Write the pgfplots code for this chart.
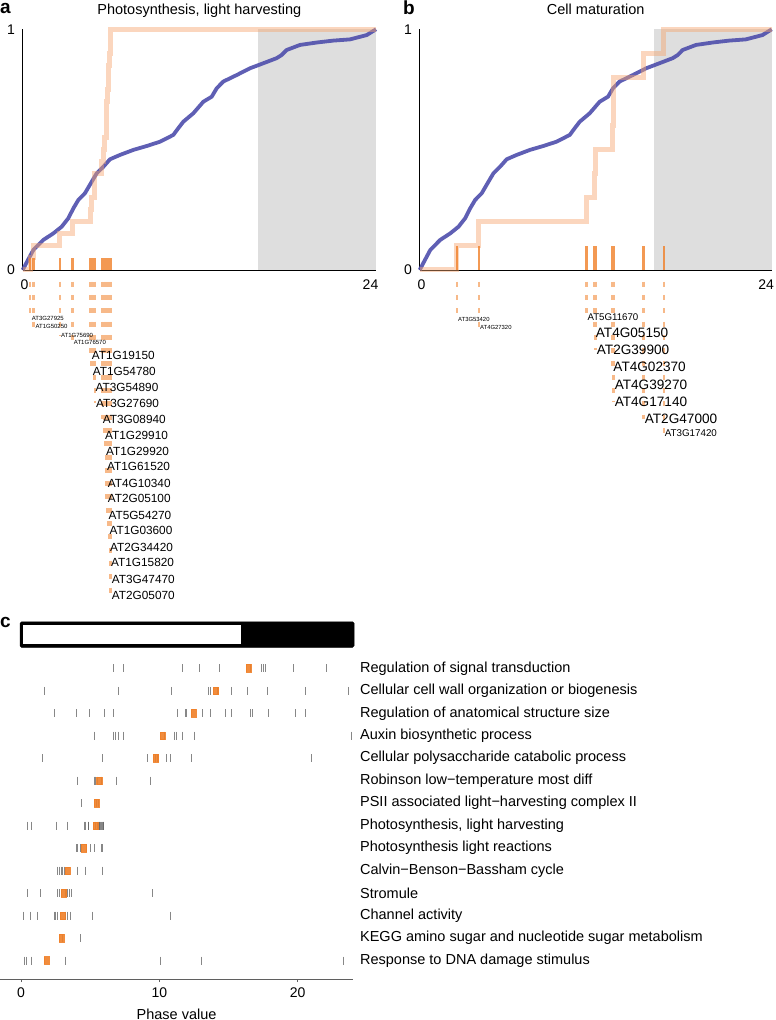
\documentclass[border=0pt]{standalone}
\usepackage{fontspec}
\setmainfont{Liberation Sans}
\usepackage{pgfplots}
\usepackage{pgfplotstable}
\pgfplotsset{compat=1.18}
\definecolor{blu}{RGB}{78,78,172}
\definecolor{ora}{RGB}{240,128,40}
\definecolor{oral}{RGB}{246,165,110}
\definecolor{shade}{RGB}{222,222,222}
\definecolor{tk}{RGB}{95,95,95}
\tikzset{gdash/.style={dash pattern=on 0pt off 11.7pt on 5pt off 8.3pt on 5pt off 8.3pt on 5pt off 8.3pt on 5pt off 8.3pt on 5pt off 8.3pt on 5pt off 8.3pt on 5pt off 8.3pt on 5pt off 8.3pt on 5pt off 8.3pt on 5pt off 8.3pt on 5pt off 8.3pt on 5pt off 8.3pt on 5pt off 8.3pt on 5pt off 8.3pt on 5pt off 8.3pt on 5pt off 8.3pt on 5pt off 8.3pt on 5pt off 8.3pt on 5pt off 8.3pt on 5pt off 8.3pt on 5pt off 8.3pt on 5pt off 8.3pt on 5pt off 8.3pt on 5pt off 8.3pt on 5pt off 8.3pt}}

\pgfplotstableread{
x y
0 0
0.3 0.035
0.72 0.083
1.40 0.125
2.08 0.152
2.65 0.180
3.10 0.215
3.44 0.256
3.78 0.291
4.23 0.319
4.69 0.367
5.03 0.402
5.48 0.429
5.93 0.460
6.61 0.478
7.52 0.499
8.42 0.515
9.33 0.533
10.23 0.561
10.57 0.589
10.91 0.616
11.59 0.651
12.27 0.699
12.84 0.720
13.18 0.755
13.63 0.783
14.54 0.810
15.44 0.838
16.35 0.859
17.25 0.880
17.59 0.893
17.93 0.914
18.84 0.935
19.97 0.945
21.10 0.953
22.23 0.958
23.37 0.976
24 1
}\bgcurve

\newcommand{\glab}[4]{\node[anchor=west,inner sep=0pt,xshift=1pt,font=\fontsize{#3}{#3}\selectfont] at (axis cs:#1,#2) {#4};}
\newcommand{\rowlab}[2]{\node[anchor=west,inner sep=0pt,xshift=7pt,font=\fontsize{14.5}{17}\selectfont] at (axis cs:24,#1) {#2};}

\begin{document}
\begin{tikzpicture}[font=\fontsize{14}{16}\selectfont]
\path[use as bounding box] (0,0) rectangle (776pt,1020pt);
\pgfplotsset{panelab/.style={scale only axis, height=240.7pt,
  xmin=0,xmax=24,ymin=0,ymax=1,
  axis x line*=bottom, axis y line*=left,
  xtick={0,24}, ytick={0,1},
  xticklabels={\rlap{\kern-2pt 0}, \llap{24\kern-2.3pt}},
  major tick length=0pt, clip=false,
  /pgf/number format/assume math mode=true,
  tick label style={font=\fontsize{14}{16}\selectfont},
  xticklabel style={inner sep=0pt, anchor=north, yshift=-10pt},
  yticklabel style={inner sep=0pt, anchor=east, xshift=-7.7pt},
  title style={font=\fontsize{14.5}{17}\selectfont, at={(0.5,1)}, anchor=base, yshift=8.6pt},
  axis line style={black, line width=0.8pt}}}

% ---------------- panel a
\begin{axis}[panelab, at={(22.7pt,750pt)}, anchor=south west, width=353.3pt,
  title={Photosynthesis, light harvesting}]
\addplot[fill=shade, draw=none] coordinates {(16,1) (24,1)} \closedcycle;
\addplot[blu, line width=3.8pt, opacity=0.9, line join=round] table {\bgcurve};
\addplot[const plot, oral, line width=5pt, opacity=0.45] coordinates {
(0,0) (0.50,0.05) (0.72,0.10) (2.53,0.15) (3.37,0.20) (4.62,0.25) (4.69,0.30)
(4.87,0.35) (4.91,0.40) (5.37,0.45) (5.52,0.50) (5.59,0.55) (5.66,0.60)
(5.70,0.65) (5.70,0.70) (5.75,0.75) (5.82,0.80) (5.86,0.85) (5.93,0.90)
(5.98,0.95) (5.98,1.00) (24,1.00)};
\addplot[ycomb, ora, line width=2.5pt, opacity=0.8] coordinates {
(0.50,0.05) (0.72,0.05) (2.53,0.05) (3.37,0.05) (4.62,0.05) (4.69,0.05)
(4.87,0.05) (4.91,0.05) (5.37,0.05) (5.52,0.05) (5.59,0.05) (5.66,0.05)
(5.70,0.05) (5.70,0.05) (5.75,0.05) (5.82,0.05) (5.86,0.05) (5.93,0.05)
(5.98,0.05) (5.98,0.05)};
\addplot[ycomb, ora, line width=2.5pt, opacity=0.55, gdash] coordinates {
(0.50,-0.200) (0.72,-0.236) (2.53,-0.270) (3.37,-0.302) (4.62,-0.353)
(4.69,-0.420) (4.87,-0.486) (4.91,-0.553) (5.37,-0.619) (5.52,-0.686)
(5.59,-0.752) (5.66,-0.818) (5.70,-0.885) (5.70,-0.951) (5.75,-1.018)
(5.82,-1.084) (5.86,-1.151) (5.93,-1.217) (5.98,-1.284) (5.98,-1.350)};
\glab{0.54}{-0.200}{6}{AT3G27925}
\glab{0.79}{-0.236}{6}{AT1G50250}
\glab{2.53}{-0.270}{6}{AT1G75690}
\glab{3.40}{-0.302}{6}{AT1G76570}
\glab{4.62}{-0.353}{11.8}{AT1G19150}
\glab{4.69}{-0.420}{11.8}{AT1G54780}
\glab{4.87}{-0.486}{11.8}{AT3G54890}
\glab{4.91}{-0.553}{11.8}{AT3G27690}
\glab{5.37}{-0.619}{11.8}{AT3G08940}
\glab{5.52}{-0.686}{11.8}{AT1G29910}
\glab{5.59}{-0.752}{11.8}{AT1G29920}
\glab{5.66}{-0.818}{11.8}{AT1G61520}
\glab{5.70}{-0.885}{11.8}{AT4G10340}
\glab{5.70}{-0.951}{11.8}{AT2G05100}
\glab{5.75}{-1.018}{11.8}{AT5G54270}
\glab{5.82}{-1.084}{11.8}{AT1G03600}
\glab{5.86}{-1.151}{11.8}{AT2G34420}
\glab{5.93}{-1.217}{11.8}{AT1G15820}
\glab{5.98}{-1.284}{11.8}{AT3G47470}
\glab{5.98}{-1.350}{11.8}{AT2G05070}
\end{axis}

% ---------------- panel b
\begin{axis}[panelab, at={(419.7pt,750pt)}, anchor=south west, width=352pt,
  title={Cell maturation}]
\addplot[fill=shade, draw=none] coordinates {(16,1) (24,1)} \closedcycle;
\addplot[blu, line width=3.8pt, opacity=0.9, line join=round] table {\bgcurve};
\addplot[const plot, oral, line width=5pt, opacity=0.45] coordinates {
(0,0) (2.54,0.1) (4.04,0.2) (11.36,0.3) (11.93,0.4) (12.0,0.5) (13.15,0.6)
(13.2,0.7) (13.2,0.8) (15.27,0.9) (16.65,1.0) (24,1.0)};
\addplot[ycomb, ora, line width=2.5pt, opacity=0.8] coordinates {
(2.54,0.1) (4.04,0.1) (11.36,0.1) (11.93,0.1) (12.0,0.1) (13.15,0.1)
(13.2,0.1) (13.2,0.1) (15.27,0.1) (16.65,0.1)};
\addplot[ycomb, ora, line width=2.5pt, opacity=0.55, gdash] coordinates {
(2.54,-0.204) (4.04,-0.238) (11.36,-0.198) (11.93,-0.263) (12.0,-0.332)
(13.15,-0.404) (13.2,-0.475) (13.2,-0.547) (15.27,-0.619) (16.65,-0.676)};
\glab{2.54}{-0.204}{5.9}{AT3G53420}
\glab{4.04}{-0.238}{5.9}{AT4G27320}
\glab{11.36}{-0.198}{9.7}{AT5G11670}
\glab{11.93}{-0.263}{13.6}{AT4G05150}
\glab{12.0}{-0.332}{13.6}{AT2G39900}
\glab{13.13}{-0.404}{13.6}{AT4G02370}
\glab{13.22}{-0.475}{13.6}{AT4G39270}
\glab{13.22}{-0.547}{13.6}{AT4G17140}
\glab{15.27}{-0.619}{13.6}{AT2G47000}
\glab{16.63}{-0.676}{9.8}{AT3G17420}
\end{axis}

% ---------------- panel c
\begin{axis}[at={(0.25pt,41pt)}, anchor=south west, scale only axis,
  width=352.7pt, height=357.9pt,
  xmin=-1.5, xmax=24, ymin=0.18, ymax=16.1,
  axis x line*=bottom, axis y line=none, ytick=\empty,
  xtick={0,10,20}, xtick align=outside, major tick length=3pt, clip=false,
  /pgf/number format/assume math mode=true,
  axis line style={tk, line width=0.8pt}, tick style={tk, line width=0.8pt},
  tick label style={font=\fontsize{14}{16}\selectfont},
  xticklabel style={inner sep=0pt, anchor=north, yshift=-6pt},
  xlabel={Phase value},
  xlabel style={font=\fontsize{14.5}{17}\selectfont, at={(axis description cs:0.5,0)}, anchor=base, yshift=-40pt}]
\addplot[fill=black, draw=black, rounded corners=1.5pt] coordinates {(-0.07,14.93) (24.08,14.93) (24.08,16.07) (-0.07,16.07)} -- cycle;
\addplot[fill=white, draw=none] coordinates {(0.12,15.08) (15.89,15.08) (15.89,15.93) (0.12,15.93)} -- cycle;
\addplot[only marks, mark=|, mark size=4pt, mark options={draw=tk, line width=0.85pt, opacity=0.75}] coordinates {
(6.67,14) (7.40,14) (11.66,14) (12.87,14) (14.34,14) (16.56,14) (17.40,14) (17.52,14) (17.70,14) (19.69,14) (22.05,14)
(1.69,13) (7.04,13) (10.85,13) (13.54,13) (13.67,13) (14.22,13) (15.23,13) (16.36,13) (17.84,13) (20.58,13) (23.67,13)
(2.41,12) (3.98,12) (4.92,12) (6.02,12) (6.67,12) (11.32,12) (11.91,12) (11.98,12) (13.14,12) (13.72,12) (14.80,12) (15.21,12) (16.61,12) (16.74,12) (17.88,12) (19.87,12) (20.56,12)
(5.28,11) (6.67,11) (6.80,11) (7.04,11) (7.40,11) (10.34,11) (11.08,11) (11.21,11) (11.66,11) (12.51,11) (23.86,11)
(1.54,10) (5.91,10) (9.16,10) (9.69,10) (9.84,10) (10.48,10) (10.77,10) (12.31,10) (20.99,10)
(4.07,9) (5.28,9) (5.40,9) (5.52,9) (5.78,9) (6.92,9) (9.33,9)
(4.36,8) (5.45,8) (5.57,8)
(0.50,7) (0.72,7) (2.53,7) (3.37,7) (4.62,7) (4.69,7) (4.87,7) (4.91,7) (5.37,7) (5.52,7) (5.59,7) (5.66,7) (5.70,7) (5.75,7) (5.82,7) (5.86,7) (5.93,7) (5.98,7)
(3.98,6) (4.10,6) (4.27,6) (4.39,6) (4.70,6) (4.99,6) (5.30,6) (5.78,6) (5.88,6)
(2.65,5) (2.77,5) (2.89,5) (3.01,5) (3.13,5) (4.10,5) (4.68,5) (5.88,5)
(0.48,4) (1.37,4) (2.65,4) (2.77,4) (2.94,4) (3.23,4) (3.38,4) (3.47,4) (3.67,4) (9.49,4)
(0.17,3) (0.65,3) (1.18,3) (2.41,3) (2.51,3) (2.62,3) (3.23,3) (3.38,3) (3.59,3) (5.18,3) (10.77,3)
(3.01,2) (4.27,2)
(0.24,1) (0.41,1) (0.72,1) (3.18,1) (10.05,1) (13.07,1) (23.30,1)};
\addplot[only marks, mark=square*, mark size=2.6pt, mark options={fill=ora, draw=ora, yscale=1.5, opacity=0.9}] coordinates {
(16.44,14) (14.1,13) (12.46,12) (10.22,11) (9.76,10) (5.66,9) (5.45,8) (5.4,7) (4.56,6) (3.35,5) (3.11,4) (2.99,3) (2.94,2) (1.86,1)};
\rowlab{14}{Regulation of signal transduction}
\rowlab{13}{Cellular cell wall organization or biogenesis}
\rowlab{12}{Regulation of anatomical structure size}
\rowlab{11}{Auxin biosynthetic process}
\rowlab{10}{Cellular polysaccharide catabolic process}
\rowlab{9}{Robinson low−temperature most diff}
\rowlab{8}{PSII associated light−harvesting complex II}
\rowlab{7}{Photosynthesis, light harvesting}
\rowlab{6}{Photosynthesis light reactions}
\rowlab{5}{Calvin−Benson−Bassham cycle}
\rowlab{4}{Stromule}
\rowlab{3}{Channel activity}
\rowlab{2}{KEGG amino sugar and nucleotide sugar metabolism}
\rowlab{1}{Response to DNA damage stimulus}
\end{axis}

\node[anchor=base west, inner sep=0pt, font=\bfseries\fontsize{19}{20}\selectfont] at (0pt,1006pt) {a};
\node[anchor=base west, inner sep=0pt, font=\bfseries\fontsize{19}{20}\selectfont] at (403pt,1005pt) {b};
\node[anchor=base west, inner sep=0pt, font=\bfseries\fontsize{19}{20}\selectfont] at (0pt,392pt) {c};
\end{tikzpicture}
\end{document}
